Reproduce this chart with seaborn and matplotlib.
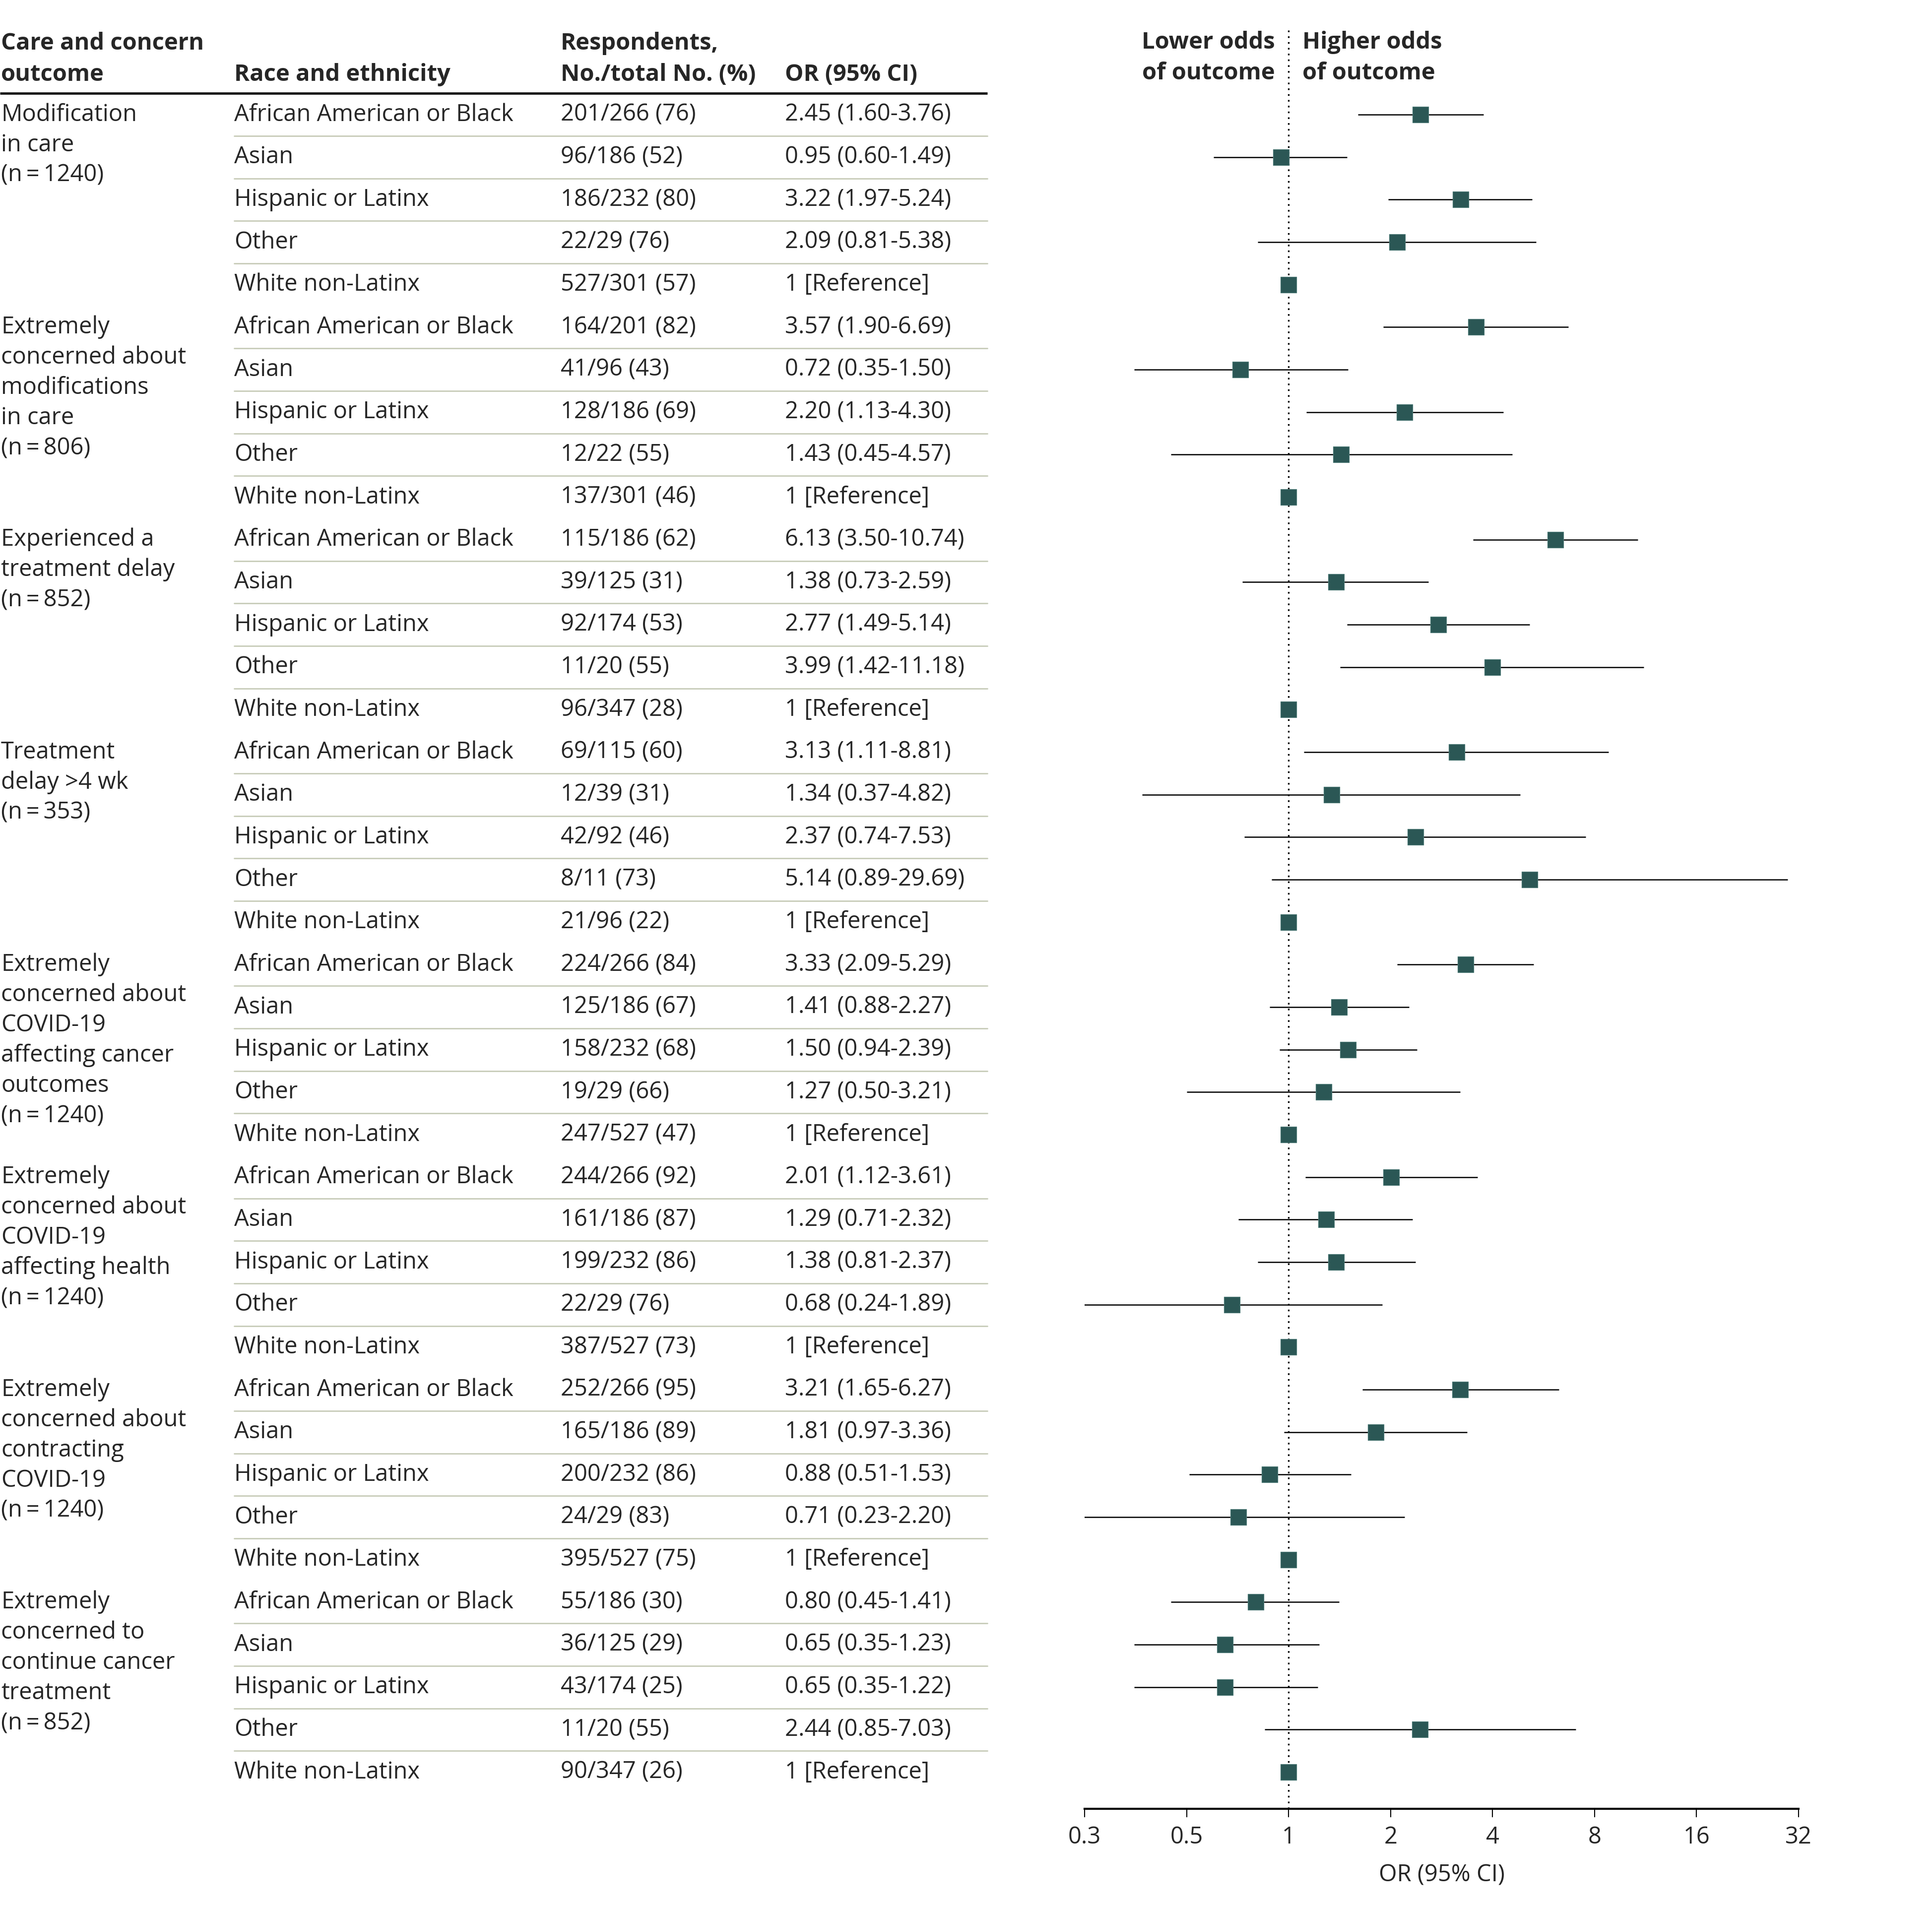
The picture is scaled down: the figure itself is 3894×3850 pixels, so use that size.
import matplotlib
matplotlib.use("Agg")
import matplotlib.pyplot as plt
import seaborn as sns
import pandas as pd
import numpy as np

# ---- data ----
outcomes = [
    ["Modification", "in care", "(n\u2009=\u20091240)"],
    ["Extremely", "concerned about", "modifications", "in care", "(n\u2009=\u2009806)"],
    ["Experienced a", "treatment delay", "(n\u2009=\u2009852)"],
    ["Treatment", "delay >4 wk", "(n\u2009=\u2009353)"],
    ["Extremely", "concerned about", "COVID-19", "affecting cancer", "outcomes", "(n\u2009=\u20091240)"],
    ["Extremely", "concerned about", "COVID-19", "affecting health", "(n\u2009=\u20091240)"],
    ["Extremely", "concerned about", "contracting", "COVID-19", "(n\u2009=\u20091240)"],
    ["Extremely", "concerned to", "continue cancer", "treatment", "(n\u2009=\u2009852)"],
]
races = ["African American or Black", "Asian", "Hispanic or Latinx", "Other", "White non-Latinx"]

respondents = [
    ["201/266 (76)", "96/186 (52)", "186/232 (80)", "22/29 (76)", "527/301 (57)"],
    ["164/201 (82)", "41/96 (43)", "128/186 (69)", "12/22 (55)", "137/301 (46)"],
    ["115/186 (62)", "39/125 (31)", "92/174 (53)", "11/20 (55)", "96/347 (28)"],
    ["69/115 (60)", "12/39 (31)", "42/92 (46)", "8/11 (73)", "21/96 (22)"],
    ["224/266 (84)", "125/186 (67)", "158/232 (68)", "19/29 (66)", "247/527 (47)"],
    ["244/266 (92)", "161/186 (87)", "199/232 (86)", "22/29 (76)", "387/527 (73)"],
    ["252/266 (95)", "165/186 (89)", "200/232 (86)", "24/29 (83)", "395/527 (75)"],
    ["55/186 (30)", "36/125 (29)", "43/174 (25)", "11/20 (55)", "90/347 (26)"],
]

odds = [
    [2.45, 0.95, 3.22, 2.09, 1],
    [3.57, 0.72, 2.20, 1.43, 1],
    [6.13, 1.38, 2.77, 3.99, 1],
    [3.13, 1.34, 2.37, 5.14, 1],
    [3.33, 1.41, 1.50, 1.27, 1],
    [2.01, 1.29, 1.38, 0.68, 1],
    [3.21, 1.81, 0.88, 0.71, 1],
    [0.80, 0.65, 0.65, 2.44, 1],
]
ci_low = [
    [1.60, 0.60, 1.97, 0.81, None],
    [1.90, 0.35, 1.13, 0.45, None],
    [3.50, 0.73, 1.49, 1.42, None],
    [1.11, 0.37, 0.74, 0.89, None],
    [2.09, 0.88, 0.94, 0.50, None],
    [1.12, 0.71, 0.81, 0.24, None],
    [1.65, 0.97, 0.51, 0.23, None],
    [0.45, 0.35, 0.35, 0.85, None],
]
ci_high = [
    [3.76, 1.49, 5.24, 5.38, None],
    [6.69, 1.50, 4.30, 4.57, None],
    [10.74, 2.59, 5.14, 11.18, None],
    [8.81, 4.82, 7.53, 29.69, None],
    [5.29, 2.27, 2.39, 3.21, None],
    [3.61, 2.32, 2.37, 1.89, None],
    [6.27, 3.36, 1.53, 2.20, None],
    [1.41, 1.23, 1.22, 7.03, None],
]

tick_vals = [0.25, 0.5, 1, 2, 4, 8, 16, 32]
tick_labels = ["0.3", "0.5", "1", "2", "4", "8", "16", "32"]

# ---- long table ----
rows = []
for g in range(len(outcomes)):
    for r, race in enumerate(races):
        rows.append(dict(group=g, race=race, resp=respondents[g][r],
                         OR=odds[g][r], lo=ci_low[g][r], hi=ci_high[g][r]))
df = pd.DataFrame(rows)
df["y"] = np.arange(len(df))


def or_text(row):
    if pd.isna(row["lo"]):
        return "1 [Reference]"
    return f"{row['OR']:.2f} ({row['lo']:.2f}-{row['hi']:.2f})"


df["label"] = df.apply(or_text, axis=1)

# ---- style ----
sns.set_style("white")
plt.rcParams["font.family"] = ["Open Sans", "DejaVu Sans"]
FS = 11.3
mark_color = "#2b5755"

W, H = 3895, 3850
fig = plt.figure(figsize=(W / 300, H / 300), dpi=300)

row_top, row_bot = 231, 3572
step = (row_bot - row_top) / 39
ax_top, ax_bot = 53, 3646
ylim = (39 + (ax_bot - row_bot) / step, -(row_top - ax_top) / step)
bottom = 1 - ax_bot / H
height = (ax_bot - ax_top) / H

# forest axes
ax = fig.add_axes([2186 / W, bottom, (3625 - 2186) / W, height])
ci = df.dropna(subset=["lo"])
ax.hlines(ci["y"], ci["lo"], ci["hi"], color="black", lw=0.6, zorder=2)
ax.axvline(1, color="black", ls=(0, (1, 2.5)), lw=0.8, zorder=1)
sns.scatterplot(data=df, x="OR", y="y", marker="s", s=62, color=mark_color,
                edgecolor="#4d7a77", linewidth=0.3, zorder=3, ax=ax, legend=False)
ax.set_xscale("log")
ax.set_xlim(0.25, 32)
ax.set_ylim(*ylim)
ax.set_xticks(tick_vals)
ax.set_xticklabels(tick_labels)
ax.minorticks_off()
ax.set_yticks([])
ax.set_ylabel("")
ax.set_xlabel("OR (95% CI)", fontsize=FS, labelpad=7)
ax.tick_params(axis="x", direction="out", length=4, width=0.5, pad=4,
               labelsize=FS, bottom=True, color="black")
for s in ["left", "top", "right"]:
    ax.spines[s].set_visible(False)
ax.spines["bottom"].set_linewidth(1.0)
ax.spines["bottom"].set_color("black")
ax.text(0.91, -1.70, "Lower odds", ha="right", va="center", fontsize=FS, fontweight="bold")
ax.text(0.91, -0.97, "of outcome", ha="right", va="center", fontsize=FS, fontweight="bold")
ax.text(1.10, -1.70, "Higher odds", ha="left", va="center", fontsize=FS, fontweight="bold")
ax.text(1.10, -0.97, "of outcome", ha="left", va="center", fontsize=FS, fontweight="bold")

# table axes
tab = fig.add_axes([0, bottom, 2000 / W, height])
tab.set_xlim(0, 2000)
tab.set_ylim(*ylim)
tab.axis("off")
c1, c2, c3, c4 = 2, 472, 1130, 1582
hdr1, hdr2 = -1.67, -0.945
for x, t1, t2 in [(c1, "Care and concern", "outcome"), (c2, "", "Race and ethnicity"),
                  (c3, "Respondents,", "No./total No. (%)"), (c4, "", "OR (95% CI)")]:
    if t1:
        tab.text(x, hdr1, t1, ha="left", va="center", fontsize=FS, fontweight="bold")
    tab.text(x, hdr2, t2, ha="left", va="center", fontsize=FS, fontweight="bold")
tab.plot([0, 1990], [-0.5, -0.5], color="black", lw=1.1, solid_capstyle="butt")

line_step = 61 / step
for _, row in df.iterrows():
    y = row["y"]
    tab.text(c2, y, row["race"], ha="left", va="center", fontsize=FS)
    tab.text(c3, y, row["resp"], ha="left", va="center", fontsize=FS)
    tab.text(c4, y, row["label"], ha="left", va="center", fontsize=FS)
    if row["race"] != races[-1]:
        tab.plot([c2, 1990], [y + 0.5, y + 0.5], color="#c9cdbb", lw=0.7)

for g, lines in enumerate(outcomes):
    y0 = g * len(races)
    for k, t in enumerate(lines):
        tab.text(c1, y0 + k * line_step, t, ha="left", va="center", fontsize=FS)

fig.savefig("out.png", dpi=300)
